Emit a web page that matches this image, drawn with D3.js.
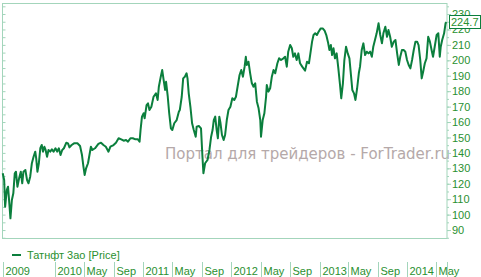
<!DOCTYPE html>
<html>
<head>
<meta charset="utf-8">
<script src="https://cdn.jsdelivr.net/npm/d3@7"></script>
<style>
  body { margin: 0; background: #fff; }
  text { font-family: "Liberation Sans", Arial, sans-serif; }
</style>
</head>
<body>
<div id="vis"></div>
<script>
// datos (aprox.)
const fechas = [
  "2009-05-27", "2009-06-02", "2009-06-06", "2009-06-13", "2009-06-18", "2009-06-24", "2009-06-28",
  "2009-07-04", "2009-07-10", "2009-07-16", "2009-07-21", "2009-07-27",
  "2009-08-03", "2009-08-10", "2009-08-16", "2009-08-21", "2009-08-29",
  "2009-09-05", "2009-09-11", "2009-09-18", "2009-09-25",
  "2009-10-02", "2009-10-09", "2009-10-13", "2009-10-18", "2009-10-24", "2009-10-30",
  "2009-11-05", "2009-11-10", "2009-11-16", "2009-11-21", "2009-11-27",
  "2009-12-03", "2009-12-10", "2009-12-17", "2009-12-24",
  "2010-01-01", "2010-01-08", "2010-01-15", "2010-01-22", "2010-01-29",
  "2010-02-05", "2010-02-15", "2010-02-22", "2010-02-28",
  "2010-03-09", "2010-03-19",
  "2010-04-02", "2010-04-13", "2010-04-21", "2010-04-27",
  "2010-05-02", "2010-05-08", "2010-05-16", "2010-05-28",
  "2010-06-03", "2010-06-14", "2010-06-28",
  "2010-07-09", "2010-07-19", "2010-07-29",
  "2010-08-09", "2010-08-17", "2010-08-30",
  "2010-09-09", "2010-09-20",
  "2010-10-01", "2010-10-11", "2010-10-21", "2010-10-29",
  "2010-11-08", "2010-11-18", "2010-11-29",
  "2010-12-09", "2010-12-16", "2010-12-20", "2010-12-26",
  "2011-01-02", "2011-01-06", "2011-01-14", "2011-01-20", "2011-01-26",
  "2011-02-03", "2011-02-12", "2011-02-22",
  "2011-03-01", "2011-03-06", "2011-03-14", "2011-03-20", "2011-03-26",
  "2011-04-01", "2011-04-05", "2011-04-12", "2011-04-18", "2011-04-25",
  "2011-05-01", "2011-05-09", "2011-05-19", "2011-05-28",
  "2011-06-01", "2011-06-09", "2011-06-15", "2011-06-22", "2011-06-29",
  "2011-07-03", "2011-07-08", "2011-07-15", "2011-07-22", "2011-07-29",
  "2011-08-06", "2011-08-10", "2011-08-19", "2011-08-28",
  "2011-09-03", "2011-09-07", "2011-09-14", "2011-09-24",
  "2011-10-02", "2011-10-09", "2011-10-15", "2011-10-20", "2011-10-26",
  "2011-11-01", "2011-11-06", "2011-11-12", "2011-11-17", "2011-11-23", "2011-11-30",
  "2011-12-06", "2011-12-13", "2011-12-20", "2011-12-28",
  "2012-01-05", "2012-01-13", "2012-01-20", "2012-01-28",
  "2012-02-04", "2012-02-11", "2012-02-18", "2012-02-25",
  "2012-03-01", "2012-03-05", "2012-03-12", "2012-03-19", "2012-03-26",
  "2012-04-02", "2012-04-09", "2012-04-16", "2012-04-23", "2012-04-30",
  "2012-05-03", "2012-05-10", "2012-05-17", "2012-05-24", "2012-05-27",
  "2012-06-03", "2012-06-10", "2012-06-17", "2012-06-24",
  "2012-07-01", "2012-07-10", "2012-07-17", "2012-07-25",
  "2012-08-04", "2012-08-11", "2012-08-18", "2012-08-24",
  "2012-09-01", "2012-09-08", "2012-09-14", "2012-09-21", "2012-09-28",
  "2012-10-05", "2012-10-12", "2012-10-21",
  "2012-11-02", "2012-11-10", "2012-11-18", "2012-11-24",
  "2012-12-01", "2012-12-07", "2012-12-14", "2012-12-21", "2012-12-28",
  "2013-01-06", "2013-01-14", "2013-01-22", "2013-01-29",
  "2013-02-06", "2013-02-11", "2013-02-17", "2013-02-22", "2013-02-28",
  "2013-03-06", "2013-03-13", "2013-03-20", "2013-03-27",
  "2013-04-01", "2013-04-08", "2013-04-14", "2013-04-21", "2013-04-28",
  "2013-05-05", "2013-05-12", "2013-05-17", "2013-05-24", "2013-05-30",
  "2013-06-06", "2013-06-13", "2013-06-18", "2013-06-25",
  "2013-07-02", "2013-07-09", "2013-07-16", "2013-07-23", "2013-07-30",
  "2013-08-06", "2013-08-12", "2013-08-19", "2013-08-26",
  "2013-09-03", "2013-09-10", "2013-09-17", "2013-09-23",
  "2013-10-01", "2013-10-08", "2013-10-14", "2013-10-21", "2013-10-28",
  "2013-11-05", "2013-11-12", "2013-11-19", "2013-11-26",
  "2013-12-02", "2013-12-09", "2013-12-16", "2013-12-23", "2013-12-30",
  "2014-01-06", "2014-01-13", "2014-01-20", "2014-01-27",
  "2014-02-03", "2014-02-10", "2014-02-16", "2014-02-23",
  "2014-03-01", "2014-03-07", "2014-03-14", "2014-03-21", "2014-03-28",
  "2014-04-04", "2014-04-11", "2014-04-17", "2014-04-24",
  "2014-05-02", "2014-05-09", "2014-05-15", "2014-05-19", "2014-05-25",
  "2014-06-02", "2014-06-08", "2014-06-12"
];

const precios = [
  126.8, 122.4, 105.1, 116.0, 118.1, 106.2, 97.6,
  109.5, 113.8, 126.8, 127.8, 118.1,
  123.5, 127.8, 120.3, 127.8, 128.9,
  122.4, 120.3, 124.6, 133.3,
  137.5, 140.8, 136.5, 127.8, 133.3, 143.0,
  145.1, 140.8, 144.0, 141.9, 137.5,
  141.9, 140.8, 142.3, 140.8,
  143.0, 140.8, 143.0, 138.6, 141.9,
  143.0, 146.6, 146.2, 143.6,
  145.1, 146.2,
  146.2, 144.5, 138.6, 131.1,
  125.7, 130.0, 133.3, 144.0,
  141.9, 143.0, 145.8,
  146.6, 145.1, 144.0,
  140.8, 144.0, 145.1,
  146.6, 149.5,
  148.8, 147.9, 148.4, 147.3,
  149.5, 149.5, 148.8,
  148.8, 147.3, 154.8, 163.5,
  165.7, 162.4, 171.0, 172.1, 167.8,
  169.9, 176.4, 178.6,
  174.3, 182.9, 189.4, 193.7, 187.2,
  180.8, 186.1, 176.4, 165.7, 155.9,
  154.8, 159.2, 161.3, 166.7,
  167.8, 176.4, 188.3, 189.4, 191.6,
  188.3, 178.6, 169.9, 159.2, 154.8,
  150.5, 157.0, 157.4, 155.9,
  137.5, 126.8, 133.3, 135.4,
  141.9, 150.5, 154.8, 161.3, 163.5,
  154.8, 149.5, 163.5, 159.2, 151.6, 148.4,
  151.6, 161.3, 167.8, 169.9,
  175.4, 174.3, 176.4, 184.0,
  190.5, 193.7, 189.4, 195.9,
  202.3, 197.0, 199.1, 191.6, 185.1,
  182.9, 185.1, 173.2, 168.9, 161.3,
  150.5, 161.3, 165.7, 176.4, 184.0,
  179.7, 181.9, 189.4, 193.7,
  191.6, 198.1, 201.3, 200.2,
  201.3, 202.3, 195.9, 205.6,
  209.9, 207.8, 202.3, 204.5, 200.2,
  204.5, 198.1, 195.9,
  193.3, 199.1, 198.1, 204.5,
  212.1, 216.4, 217.5, 216.4, 218.5,
  220.7, 220.7, 219.2, 216.4,
  211.0, 206.7, 209.9, 203.4, 207.8,
  201.3, 204.5, 194.8, 184.0,
  175.4, 185.1, 200.2, 208.8, 204.5,
  201.3, 189.4, 180.8, 178.6, 174.3,
  181.9, 191.6, 195.9, 206.7,
  211.0, 203.4, 205.6, 204.5, 205.6,
  202.3, 208.8, 213.2, 217.5,
  224.0, 216.4, 211.0, 217.5,
  221.8, 215.3, 219.6, 215.3, 208.8,
  212.1, 213.2, 204.5, 197.0,
  202.3, 206.7, 206.7, 205.6, 200.2,
  197.0, 194.8, 200.2, 206.7,
  212.1, 212.1, 209.9, 200.2,
  188.3, 192.6, 198.1, 201.3, 215.3,
  212.1, 206.7, 202.3, 208.8,
  216.4, 217.5, 202.3, 208.8, 213.2,
  217.5, 224.0, 224.7
];

const ticksPrecio = [90, 100, 110, 120, 130, 140, 150, 160, 170, 180, 190, 200, 210, 220, 230];
const marcasFecha = ["2009-05-24", "2010-01-01", "2010-05-01", "2010-09-01", "2011-01-01", "2011-05-01", "2011-09-01",
  "2012-01-01", "2012-05-01", "2012-09-01", "2013-01-01", "2013-05-01", "2013-09-01", "2014-01-01", "2014-05-01"];
const etiquetasFecha = ["2009", "2010", "May", "Sep", "2011", "May", "Sep", "2012", "May", "Sep",
  "2013", "May", "Sep", "2014", "May"];
const nombreSerie = "Татнфт 3ао [Price]";
const ultimoPrecio = 224.7;
const marcaAgua = "Портал для трейдеров - ForTrader.ru";

const colorLinea = "#0b7f3d";
const colorTexto = "#2a9030";
const colorMarco = "#a3d5bb";

const parseFecha = d3.timeParse("%Y-%m-%d");
const datos = d3.zip(fechas, precios).map(([f, p]) => ({ fecha: parseFecha(f), precio: p }));

const SVG = d3.select("#vis")
  .append("svg")
  .attr("width", 481)
  .attr("height", 277);

const escalaX = d3.scaleTime()
  .domain([parseFecha("2009-05-24"), parseFecha("2014-06-14")])
  .range([2, 447]);

const escalaY = d3.scaleLinear()
  .domain([84.2, 236.5])
  .range([239, 4]);

// marca de agua
SVG.append("text")
  .attr("x", 165)
  .attr("y", 159)
  .style("font-family", "'DejaVu Sans', sans-serif")
  .style("font-size", "15px")
  .attr("fill", "#b5a9a9")
  .text(marcaAgua);

// marco
SVG.append("rect")
  .attr("x", 2.5)
  .attr("y", 3.5)
  .attr("width", 444.5)
  .attr("height", 235)
  .attr("fill", "none")
  .attr("stroke", colorMarco);

// ticks menores (izquierda y derecha)
const menores = d3.range(85, 236, 5);
SVG.append("g")
  .attr("transform", "translate(2.5,0)")
  .call(d3.axisRight(escalaY).tickValues(menores).tickSize(3).tickFormat(""))
  .call(g => g.select(".domain").remove())
  .call(g => g.selectAll("line").attr("stroke", colorMarco));

SVG.append("g")
  .attr("transform", "translate(447,0)")
  .call(d3.axisRight(escalaY).tickValues(menores).tickSize(2).tickFormat(""))
  .call(g => g.select(".domain").remove())
  .call(g => g.selectAll("line").attr("stroke", colorMarco));

// eje derecho con etiquetas
SVG.append("g")
  .attr("transform", "translate(447,0)")
  .call(d3.axisRight(escalaY).tickValues(ticksPrecio).tickSize(4).tickPadding(1))
  .call(g => g.select(".domain").remove())
  .call(g => g.selectAll("line").attr("stroke", colorMarco))
  .call(g => g.selectAll("text")
    .attr("fill", colorTexto)
    .style("font-family", "'Liberation Sans', Arial, sans-serif")
    .style("font-size", "11px"));

// linea de precio
const linea = d3.line()
  .x(d => escalaX(d.fecha))
  .y(d => escalaY(d.precio));

SVG.append("path")
  .datum(datos)
  .attr("d", linea)
  .attr("fill", "none")
  .attr("stroke", colorLinea)
  .attr("stroke-width", 2)
  .attr("stroke-linejoin", "round");

// etiqueta del ultimo precio
const yUltimo = escalaY(ultimoPrecio);
SVG.append("rect")
  .attr("x", 449.5)
  .attr("y", Math.round(yUltimo) - 6.5)
  .attr("width", 31)
  .attr("height", 13)
  .attr("fill", "white")
  .attr("stroke", colorLinea);
SVG.append("text")
  .attr("x", 451)
  .attr("y", Math.round(yUltimo) + 4)
  .attr("fill", colorTexto)
  .style("font-size", "11px")
  .text(ultimoPrecio.toFixed(1));

// leyenda
SVG.append("line")
  .attr("x1", 12)
  .attr("x2", 21)
  .attr("y1", 255)
  .attr("y2", 255)
  .attr("stroke", colorLinea)
  .attr("stroke-width", 2);
SVG.append("text")
  .attr("x", 27)
  .attr("y", 259)
  .attr("fill", colorTexto)
  .style("font-size", "11px")
  .text(nombreSerie);

// eje de fechas (cajas)
const cajas = SVG.append("g")
  .selectAll("g")
  .data(d3.zip(marcasFecha, etiquetasFecha))
  .join("g")
  .attr("transform", (d, i) => `translate(${Math.round(escalaX(parseFecha(d[0]))) + (i === 0 ? 1 : 0) + 0.5},0)`);

cajas.append("line")
  .attr("y1", 262)
  .attr("y2", 277)
  .attr("stroke", colorMarco);

cajas.append("text")
  .attr("x", 2)
  .attr("y", 275)
  .attr("fill", colorTexto)
  .style("font-size", "11px")
  .text(d => d[1]);

SVG.append("line")
  .attr("x1", 447.5)
  .attr("x2", 447.5)
  .attr("y1", 262)
  .attr("y2", 277)
  .attr("stroke", colorMarco);
</script>
</body>
</html>
